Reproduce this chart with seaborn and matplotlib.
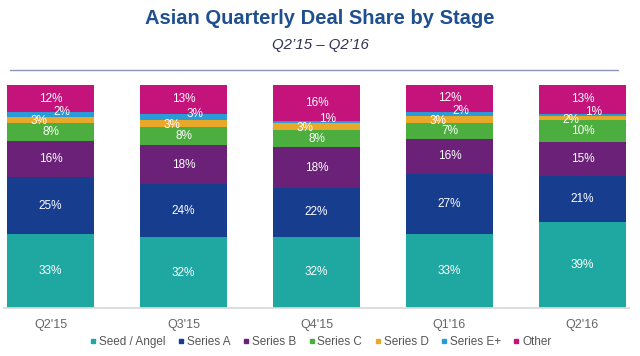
import matplotlib
matplotlib.use("Agg")
import matplotlib.pyplot as plt
from matplotlib.lines import Line2D
import numpy as np
import pandas as pd
import seaborn as sns

sns.set_theme(style='white')
plt.rcParams['font.family'] = ['Liberation Sans', 'DejaVu Sans']

# Data (percent of deals per stage)
quarters = ["Q2'15", "Q3'15", "Q4'15", "Q1'16", "Q2'16"]
stages = ['Seed / Angel', 'Series A', 'Series B', 'Series C', 'Series D', 'Series E+', 'Other']
seed = [33, 32, 32, 33, 39]
series_a = [25, 24, 22, 27, 21]
series_b = [16, 18, 18, 16, 15]
series_c = [8, 8, 8, 7, 10]
series_d = [3, 3, 3, 3, 2]
series_e = [2, 3, 1, 2, 1]
other = [12, 13, 16, 12, 13]
colors = ['#1fa7a1', '#173d8f', '#6a2177', '#4cae3e', '#e8a82a', '#2a9bd6', '#c5137c']

df = pd.DataFrame(dict(zip(stages, [seed, series_a, series_b, series_c, series_d, series_e, other])),
                  index=quarters)
share = df.div(df.sum(axis=1), axis=0)
cum = share.cumsum(axis=1)

fig = plt.figure(figsize=(6.4, 3.56), dpi=100)
ax = fig.add_axes([0.00625, 0.135, 0.9766, 0.626])

# draw cumulative bars from the top stage down so each one sits on the one below
for stage, col in reversed(list(zip(stages, colors))):
    d = pd.DataFrame({'quarter': quarters, 'top': cum[stage].values})
    sns.barplot(data=d, x='quarter', y='top', color=col, width=0.655,
                saturation=1, ax=ax, edgecolor='none')

# segment labels
offsets = {'Series D': (-8, -1), 'Series E+': (8, 2)}
for i, q in enumerate(quarters):
    for stage in stages:
        mid = cum.loc[q, stage] - share.loc[q, stage] / 2
        dx, dy = offsets.get(stage, (0, 0))
        ax.annotate(f"{df.loc[q, stage]}%", (i, mid), xytext=(dx, dy),
                    textcoords='offset points', ha='center', va='center',
                    color='white', fontsize=8.5)

ax.set_xlim(-0.35, 4.35)
ax.set_ylim(0, 1)
ax.set_yticks([])
ax.set_xlabel('')
ax.set_ylabel('')
for s in ['top', 'left', 'right']:
    ax.spines[s].set_visible(False)
ax.spines['bottom'].set_color('#d9d9d9')
ax.tick_params(axis='x', length=0, pad=8, labelsize=9, labelcolor='#666666')

fig.text(0.5, 0.948, 'Asian Quarterly Deal Share by Stage', ha='center', va='center',
         fontsize=14.5, fontweight='bold', color='#1f4f8f')
fig.text(0.5, 0.874, 'Q2\u201915 \u2013 Q2\u201916', ha='center', va='center',
         fontsize=10.8, style='italic', color='#333355')
fig.add_artist(Line2D([10 / 640, 618 / 640], [0.803, 0.803], color='#8a93b8', lw=1))

handles = [Line2D([], [], marker='s', ls='none', color=c, markersize=3.5) for c in colors]
fig.legend(handles, stages, loc='center', bbox_to_anchor=(0.5, 0.038), ncol=7, frameon=False,
           fontsize=8.5, labelcolor='#555555', handletextpad=0.1, columnspacing=0.9,
           handlelength=0.8)

fig.savefig('out.png', dpi=100)
